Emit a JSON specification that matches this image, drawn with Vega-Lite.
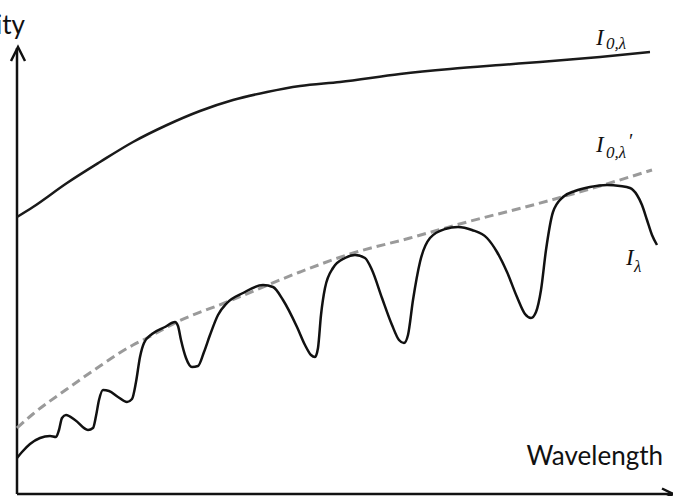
{
  "$schema": "https://vega.github.io/schema/vega-lite/v6.json",
  "width": 673,
  "height": 496,
  "padding": 0,
  "autosize": {"type": "none"},
  "background": "white",
  "config": {"view": {"stroke": null}},
  "datasets": {
    "top": [
      {"wavelength": 17, "intensity": 279}, {"wavelength": 33, "intensity": 289}, {"wavelength": 67, "intensity": 313},
      {"wavelength": 100, "intensity": 334}, {"wavelength": 133, "intensity": 354}, {"wavelength": 167, "intensity": 371},
      {"wavelength": 200, "intensity": 385}, {"wavelength": 233, "intensity": 396}, {"wavelength": 267, "intensity": 404},
      {"wavelength": 300, "intensity": 410}, {"wavelength": 340, "intensity": 414}, {"wavelength": 400, "intensity": 422},
      {"wavelength": 450, "intensity": 427}, {"wavelength": 500, "intensity": 431}, {"wavelength": 540, "intensity": 434},
      {"wavelength": 600, "intensity": 439}, {"wavelength": 650, "intensity": 444}
    ],
    "dashed": [
      {"wavelength": 17, "intensity": 68}, {"wavelength": 33, "intensity": 82}, {"wavelength": 67, "intensity": 107},
      {"wavelength": 100, "intensity": 130}, {"wavelength": 133, "intensity": 151}, {"wavelength": 147, "intensity": 158},
      {"wavelength": 177, "intensity": 174}, {"wavelength": 227, "intensity": 194}, {"wavelength": 300, "intensity": 224},
      {"wavelength": 350, "intensity": 242}, {"wavelength": 410, "intensity": 258}, {"wavelength": 467, "intensity": 274},
      {"wavelength": 533, "intensity": 291}, {"wavelength": 600, "intensity": 310}, {"wavelength": 652, "intensity": 326}
    ],
    "wavy": [
      {"wavelength": 17, "intensity": 38}, {"wavelength": 22, "intensity": 44}, {"wavelength": 30, "intensity": 52},
      {"wavelength": 40, "intensity": 58}, {"wavelength": 50, "intensity": 60}, {"wavelength": 56, "intensity": 59},
      {"wavelength": 59, "intensity": 66}, {"wavelength": 62, "intensity": 78}, {"wavelength": 66, "intensity": 81},
      {"wavelength": 75, "intensity": 76}, {"wavelength": 88, "intensity": 66}, {"wavelength": 93, "intensity": 68},
      {"wavelength": 96, "intensity": 80}, {"wavelength": 99, "intensity": 96}, {"wavelength": 103, "intensity": 106},
      {"wavelength": 109, "intensity": 105}, {"wavelength": 118, "intensity": 99}, {"wavelength": 127, "intensity": 94},
      {"wavelength": 132, "intensity": 97}, {"wavelength": 136, "intensity": 114}, {"wavelength": 140, "intensity": 139},
      {"wavelength": 144, "intensity": 153}, {"wavelength": 152, "intensity": 162}, {"wavelength": 165, "intensity": 169},
      {"wavelength": 175, "intensity": 174}, {"wavelength": 178, "intensity": 170}, {"wavelength": 181, "intensity": 156},
      {"wavelength": 186, "intensity": 138}, {"wavelength": 192, "intensity": 129}, {"wavelength": 198, "intensity": 130},
      {"wavelength": 204, "intensity": 144}, {"wavelength": 210, "intensity": 161}, {"wavelength": 218, "intensity": 181},
      {"wavelength": 227, "intensity": 193}, {"wavelength": 243, "intensity": 203}, {"wavelength": 263, "intensity": 211},
      {"wavelength": 273, "intensity": 209}, {"wavelength": 283, "intensity": 196}, {"wavelength": 297, "intensity": 169},
      {"wavelength": 305, "intensity": 151}, {"wavelength": 311, "intensity": 141}, {"wavelength": 315, "intensity": 139},
      {"wavelength": 318, "intensity": 148}, {"wavelength": 321, "intensity": 181}, {"wavelength": 325, "intensity": 208},
      {"wavelength": 333, "intensity": 228}, {"wavelength": 345, "intensity": 238}, {"wavelength": 355, "intensity": 241},
      {"wavelength": 365, "intensity": 238}, {"wavelength": 372, "intensity": 226}, {"wavelength": 382, "intensity": 198},
      {"wavelength": 392, "intensity": 171}, {"wavelength": 399, "intensity": 156}, {"wavelength": 404, "intensity": 153},
      {"wavelength": 408, "intensity": 161}, {"wavelength": 413, "intensity": 196}, {"wavelength": 420, "intensity": 234},
      {"wavelength": 430, "intensity": 258}, {"wavelength": 445, "intensity": 267}, {"wavelength": 458, "intensity": 269},
      {"wavelength": 472, "intensity": 266}, {"wavelength": 487, "intensity": 258}, {"wavelength": 497, "intensity": 244},
      {"wavelength": 507, "intensity": 224}, {"wavelength": 517, "intensity": 199}, {"wavelength": 525, "intensity": 182},
      {"wavelength": 531, "intensity": 178}, {"wavelength": 536, "intensity": 184}, {"wavelength": 541, "intensity": 206},
      {"wavelength": 546, "intensity": 246}, {"wavelength": 553, "intensity": 284}, {"wavelength": 563, "intensity": 299},
      {"wavelength": 575, "intensity": 305}, {"wavelength": 590, "intensity": 309}, {"wavelength": 607, "intensity": 311},
      {"wavelength": 620, "intensity": 310}, {"wavelength": 630, "intensity": 308}, {"wavelength": 637, "intensity": 301},
      {"wavelength": 642, "intensity": 291}, {"wavelength": 647, "intensity": 276}, {"wavelength": 652, "intensity": 261},
      {"wavelength": 657, "intensity": 251}
    ],
    "axes": [
      {"axis": "y", "x1": 17, "x2": 17, "y1": 2, "y2": 448},
      {"axis": "x", "x1": 17, "x2": 673, "y1": 2, "y2": 2}
    ],
    "arrowUp": [{"wavelength": 18, "intensity": 449}],
    "arrowRight": [{"wavelength": 673, "intensity": 2}],
    "mainLabels": [
      {"wavelength": 596, "intensity": 451, "t": "I"},
      {"wavelength": 596, "intensity": 344, "t": "I"},
      {"wavelength": 626, "intensity": 231, "t": "I"}
    ],
    "subLabels": [
      {"wavelength": 606, "intensity": 447, "t": "0,λ"},
      {"wavelength": 606, "intensity": 338, "t": "0,λ"},
      {"wavelength": 634, "intensity": 224, "t": "λ"}
    ],
    "primeLabel": [{"wavelength": 629, "intensity": 348, "t": "′"}],
    "axisTitles": [
      {"wavelength": 663, "intensity": 31, "t": "Wavelength"},
      {"wavelength": 25, "intensity": 462, "t": "Intensity"}
    ]
  },
  "encoding": {
    "x": {"field": "wavelength", "type": "quantitative", "scale": {"domain": [0, 673], "nice": false, "zero": false}, "axis": null},
    "y": {"field": "intensity", "type": "quantitative", "scale": {"domain": [0, 496], "nice": false, "zero": false}, "axis": null}
  },
  "layer": [
    {
      "data": {"name": "axes"},
      "mark": {"type": "rule", "color": "#111", "strokeWidth": 2.5},
      "encoding": {
        "x": {"field": "x1", "type": "quantitative"},
        "x2": {"field": "x2"},
        "y": {"field": "y1", "type": "quantitative"},
        "y2": {"field": "y2"}
      }
    },
    {
      "data": {"name": "arrowUp"},
      "mark": {"type": "point", "shape": "M-0.5,1L0,0L0.5,1", "size": 784, "filled": false, "stroke": "#111", "strokeWidth": 2.5, "opacity": 1}
    },
    {
      "data": {"name": "arrowRight"},
      "mark": {"type": "point", "shape": "M-1,-0.5L0,0L-1,0.5", "size": 484, "filled": false, "stroke": "#111", "strokeWidth": 2.5, "opacity": 1}
    },
    {
      "data": {"name": "top"},
      "mark": {"type": "line", "color": "#1a1a1a", "strokeWidth": 2.5, "interpolate": "monotone"}
    },
    {
      "data": {"name": "dashed"},
      "mark": {"type": "line", "color": "#9a9a9a", "strokeWidth": 3, "strokeDash": [9, 5], "interpolate": "monotone"}
    },
    {
      "data": {"name": "wavy"},
      "mark": {"type": "line", "color": "#111", "strokeWidth": 2.5, "interpolate": "monotone"}
    },
    {
      "data": {"name": "mainLabels"},
      "mark": {"type": "text", "align": "left", "baseline": "alphabetic", "font": "Liberation Serif", "fontStyle": "italic", "fontSize": 23, "color": "#111"},
      "encoding": {"text": {"field": "t"}}
    },
    {
      "data": {"name": "subLabels"},
      "mark": {"type": "text", "align": "left", "baseline": "alphabetic", "font": "Liberation Serif", "fontStyle": "italic", "fontSize": 17, "color": "#111"},
      "encoding": {"text": {"field": "t"}}
    },
    {
      "data": {"name": "primeLabel"},
      "mark": {"type": "text", "align": "left", "baseline": "alphabetic", "font": "Liberation Serif", "fontSize": 20, "color": "#111"},
      "encoding": {"text": {"field": "t"}}
    },
    {
      "data": {"name": "axisTitles"},
      "mark": {"type": "text", "align": "right", "baseline": "alphabetic", "font": "Lato", "fontSize": 26, "color": "#111", "clip": true},
      "encoding": {"text": {"field": "t"}}
    }
  ]
}
